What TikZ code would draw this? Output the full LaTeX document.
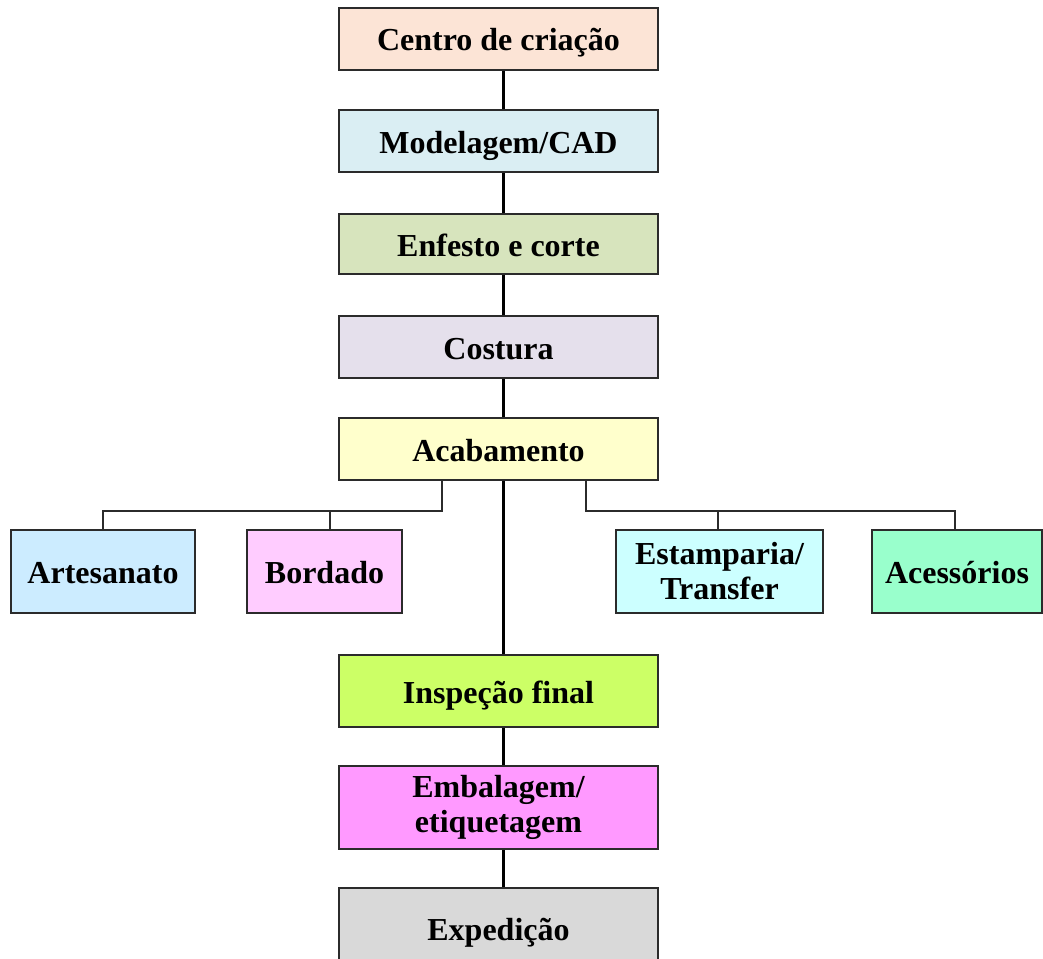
\documentclass[tikz,border=0pt]{standalone}
\usepackage{fontspec}
\setmainfont{Liberation Serif}
\definecolor{cCentro}{HTML}{FCE4D6}
\definecolor{cModel}{HTML}{DAEEF3}
\definecolor{cEnf}{HTML}{D7E4BD}
\definecolor{cCost}{HTML}{E5E0EC}
\definecolor{cAcab}{HTML}{FFFFCC}
\definecolor{cArt}{HTML}{CCECFF}
\definecolor{cBord}{HTML}{FFCCFF}
\definecolor{cEst}{HTML}{CCFFFF}
\definecolor{cAces}{HTML}{99FFCC}
\definecolor{cInsp}{HTML}{CCFF66}
\definecolor{cEmb}{HTML}{FF99FF}
\definecolor{cExp}{HTML}{D9D9D9}
\definecolor{edge}{HTML}{2B2B2B}
\begin{document}
\begin{tikzpicture}[x=1pt,y=-1pt,
  box/.style={draw=edge, line width=1.6pt, rectangle, inner sep=0pt, align=center,
    font=\fontsize{32}{35}\selectfont\bfseries},
  oneline/.style={text height=30pt, text depth=6pt},
  mainbox/.style={box, minimum width=319pt, minimum height=62pt},
  mainline/.style={draw=black, line width=3pt},
  branch/.style={draw=edge, line width=1.8pt}]
\useasboundingbox (0,0) rectangle (1043,958);
% main column
\node[mainbox, oneline, fill=cCentro] (centro) at (498.5,39) {Centro de criação};
\node[mainbox, oneline, fill=cModel] (model) at (498.5,141) {Modelagem/CAD};
\node[mainbox, oneline, fill=cEnf, minimum height=60pt] (enf) at (498.5,244) {Enfesto e corte};
\node[mainbox, oneline, fill=cCost] (cost) at (498.5,347) {Costura};
\node[mainbox, oneline, fill=cAcab] (acab) at (498.5,449) {Acabamento};
\node[mainbox, oneline, fill=cInsp, minimum height=72pt] (insp) at (498.5,691) {Inspeção final};
\node[mainbox, fill=cEmb, minimum height=83pt] (emb) at (498.5,807.5) {Embalagem/\\etiquetagem};
\node[mainbox, oneline, fill=cExp, minimum height=80pt] (exped) at (498.5,928) {Expedição};
% side boxes
\node[box, oneline, fill=cArt, minimum width=184pt, minimum height=83pt] (art) at (103,571.5) {Artesanato};
\node[box, oneline, fill=cBord, minimum width=155pt, minimum height=83pt] (bord) at (324.5,571.5) {Bordado};
\node[box, fill=cEst, minimum width=207pt, minimum height=83pt] (est) at (719.5,571.5) {Estamparia/\\Transfer};
\node[box, oneline, fill=cAces, minimum width=170pt, minimum height=83pt] (aces) at (957,571.5) {Acessórios};
% coordinates for connectors
\coordinate (mx) at (503,0);
\coordinate (lj) at (442,511);
\coordinate (rj) at (586,511);
\coordinate (bx) at (330,0);
\coordinate (ex) at (718,0);
\coordinate (ax) at (955,0);
% main line
\draw[mainline] (centro.south -| mx) -- (model.north -| mx);
\draw[mainline] (model.south -| mx) -- (enf.north -| mx);
\draw[mainline] (enf.south -| mx) -- (cost.north -| mx);
\draw[mainline] (cost.south -| mx) -- (acab.north -| mx);
\draw[mainline] (acab.south -| mx) -- (insp.north -| mx);
\draw[mainline] (insp.south -| mx) -- (emb.north -| mx);
\draw[mainline] (emb.south -| mx) -- (exped.north -| mx);
% branches
\draw[branch] (acab.south -| lj) -- (lj) -| (art.north);
\draw[branch] (lj -| bx) -- (bord.north -| bx);
\draw[branch] (acab.south -| rj) -- (rj) -| (aces.north -| ax);
\draw[branch] (rj -| ex) -- (est.north -| ex);
\end{tikzpicture}
\end{document}
